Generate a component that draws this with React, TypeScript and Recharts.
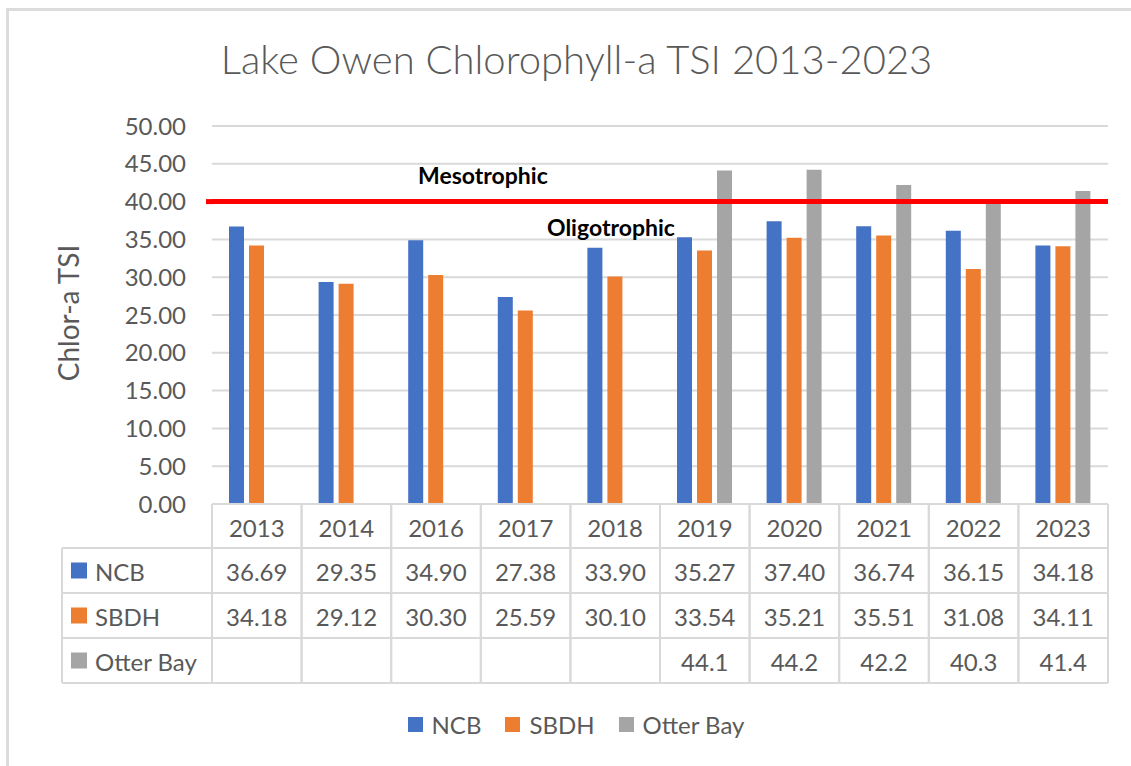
import React from 'react';
import { BarChart, Bar, XAxis, YAxis, CartesianGrid, ReferenceLine, Legend } from 'recharts';

const years = ['2013', '2014', '2016', '2017', '2018', '2019', '2020', '2021', '2022', '2023'];
const ncb = [36.69, 29.35, 34.9, 27.38, 33.9, 35.27, 37.4, 36.74, 36.15, 34.18];
const sbdh = [34.18, 29.12, 30.3, 25.59, 30.1, 33.54, 35.21, 35.51, 31.08, 34.11];
const otterBay: (number | null)[] = [null, null, null, null, null, 44.1, 44.2, 42.2, 40.3, 41.4];
const yTicks = [0, 5, 10, 15, 20, 25, 30, 35, 40, 45, 50];
const mesoThreshold = 40;

const seriesNames = ['NCB', 'SBDH', 'Otter Bay'];
const seriesColors = ['#4472C4', '#ED7D31', '#A5A5A5'];
const seriesDecimals = [2, 2, 1];
const seriesValues = [ncb, sbdh, otterBay];

const data = years.map((y, i) => ({ year: y, NCB: ncb[i], SBDH: sbdh[i], 'Otter Bay': otterBay[i] }));

const FONT = 'Lato, "Open Sans", sans-serif';
const TXT = '#595959';
const GRID = '#d9d9d9';
const FS = 24;

const ROWS = [0, 44, 89, 134, 179];
const HEADER_LEFT = 62;

const TableTick = (props: any) => {
  const { x, y, payload, index } = props;
  const half = payload && payload.offset ? payload.offset : 44.8;
  const x0 = x - half;
  const x1 = x + half;
  const els: any[] = [];
  els.push(<line key="vl" x1={x0} y1={y} x2={x0} y2={y + ROWS[4]} stroke={GRID} strokeWidth={2} />);
  els.push(<line key="vr" x1={x1} y1={y} x2={x1} y2={y + ROWS[4]} stroke={GRID} strokeWidth={2} />);
  for (let r = 1; r < ROWS.length; r++) {
    els.push(<line key={'h' + r} x1={x0} y1={y + ROWS[r]} x2={x1} y2={y + ROWS[r]} stroke={GRID} strokeWidth={2} />);
  }
  els.push(
    <text key="yr" x={x} y={y + (ROWS[0] + ROWS[1]) / 2 + 1} textAnchor="middle" dominantBaseline="central" fill={TXT} fontSize={FS} fontFamily={FONT}>
      {payload.value}
    </text>
  );
  seriesValues.forEach((vals, s) => {
    const v = vals[index];
    if (v !== null && v !== undefined) {
      els.push(
        <text key={'v' + s} x={x} y={y + (ROWS[s + 1] + ROWS[s + 2]) / 2 + 1} textAnchor="middle" dominantBaseline="central" fill={TXT} fontSize={FS} fontFamily={FONT}>
          {v.toFixed(seriesDecimals[s])}
        </text>
      );
    }
  });
  if (index === 0) {
    els.push(<line key="hl" x1={HEADER_LEFT} y1={y + ROWS[1]} x2={HEADER_LEFT} y2={y + ROWS[4]} stroke={GRID} strokeWidth={2} />);
    for (let r = 1; r < ROWS.length; r++) {
      els.push(<line key={'hh' + r} x1={HEADER_LEFT} y1={y + ROWS[r]} x2={x0} y2={y + ROWS[r]} stroke={GRID} strokeWidth={2} />);
    }
    seriesNames.forEach((n, s) => {
      const cy = y + (ROWS[s + 1] + ROWS[s + 2]) / 2;
      els.push(<rect key={'sq' + s} x={71} y={cy - 8} width={16} height={16} fill={seriesColors[s]} />);
      els.push(
        <text key={'sn' + s} x={95} y={cy + 1} dominantBaseline="central" fill={TXT} fontSize={FS} fontFamily={FONT}>
          {n}
        </text>
      );
    });
  }
  return <g>{els}</g>;
};

const YLabel = (props: any) => {
  const vb = props.viewBox || {};
  const cx = 68;
  const cy = (vb.y || 126) + (vb.height || 378) / 2 - 2;
  return (
    <text x={cx} y={cy} transform={`rotate(-90, ${cx}, ${cy})`} textAnchor="middle" dominantBaseline="central" fill={TXT} fontSize={28} fontFamily={FONT}>
      Chlor-a TSI
    </text>
  );
};

const LegendContent = () => (
  <div style={{ height: 44, display: 'flex', justifyContent: 'center', alignItems: 'center', fontFamily: FONT, fontSize: FS, color: TXT, paddingLeft: 44, boxSizing: 'border-box' }}>
    {seriesNames.map((n, s) => (
      <div key={n} style={{ display: 'flex', alignItems: 'center', marginRight: s < 2 ? 24 : 0 }}>
        <span style={{ display: 'inline-block', width: 15, height: 15, background: seriesColors[s], marginRight: 9 }} />
        <span>{n}</span>
      </div>
    ))}
  </div>
);

export default function App() {
  return (
    <div style={{ position: 'fixed', left: 0, top: 0, width: 1131, height: 766, background: '#fff', overflow: 'hidden' }}>
      <div style={{ position: 'absolute', left: 6, top: 8, right: 0, bottom: 0, borderTop: '3px solid #dcdcdc', borderLeft: '3px solid #dcdcdc' }} />
      <div style={{ position: 'absolute', left: 0, top: 35, width: 1131, textAlign: 'center', fontFamily: FONT, fontSize: 40, color: TXT, fontWeight: 300, paddingLeft: 22, boxSizing: 'border-box' }}>
        Lake Owen Chlorophyll-a TSI 2013-2023
      </div>
      <div style={{ position: 'absolute', left: 0, top: 0 }}>
        <BarChart width={1131} height={766} data={data} margin={{ top: 126, right: 23, bottom: 20, left: 0 }} barSize={15} barGap={5}>
          <CartesianGrid vertical={false} stroke={GRID} strokeWidth={2} />
          <XAxis dataKey="year" height={198} axisLine={{ stroke: GRID, strokeWidth: 2 }} tickLine={false} tickSize={0} tickMargin={0} tick={<TableTick />} interval={0} />
          <YAxis width={212} domain={[0, 50]} ticks={yTicks} axisLine={false} tickLine={false} tickMargin={20}
            tick={{ fill: TXT, fontSize: FS, fontFamily: FONT }} tickFormatter={(v: number) => v.toFixed(2)}
            label={<YLabel />} />
          <ReferenceLine y={mesoThreshold} stroke="#FF0000" strokeWidth={5}
            label={(p: any) => {
              const vb = p.viewBox || {};
              const y0 = vb.y;
              return (
                <g>
                  <line x1={206} y1={y0} x2={214} y2={y0} stroke="#FF0000" strokeWidth={5} />
                  <text x={418} y={y0 - 27} fill="#000" fontWeight={700} fontSize={23} fontFamily={FONT} dominantBaseline="central">Mesotrophic</text>
                  <text x={547} y={y0 + 25} fill="#000" fontWeight={700} fontSize={23} fontFamily={FONT} dominantBaseline="central">Oligotrophic</text>
                </g>
              );
            }} />
          <Bar dataKey="NCB" fill={seriesColors[0]} isAnimationActive={false} />
          <Bar dataKey="SBDH" fill={seriesColors[1]} isAnimationActive={false} />
          <Bar dataKey="Otter Bay" fill={seriesColors[2]} isAnimationActive={false} />
          <Legend verticalAlign="bottom" height={44} content={<LegendContent />} />
        </BarChart>
      </div>
    </div>
  );
}
